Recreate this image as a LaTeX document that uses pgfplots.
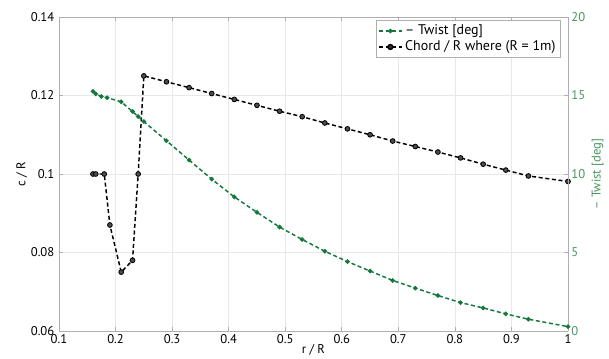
\documentclass[border=0pt]{standalone}
\usepackage{pgfplots}
\pgfplotsset{compat=1.18}
\usepackage{fontspec}
\setmainfont{PT Sans}
\definecolor{twistg}{RGB}{20,120,60}
\definecolor{twistl}{RGB}{70,150,95}
\definecolor{gridc}{RGB}{232,232,232}
\definecolor{framec}{RGB}{175,175,175}
\pgfplotstableread{
x y
0.16 0.100
0.165 0.100
0.18 0.100
0.19 0.087
0.21 0.075
0.23 0.078
0.24 0.100
0.25 0.125
0.29 0.1235
0.33 0.122
0.37 0.1205
0.41 0.119
0.45 0.1175
0.49 0.116
0.53 0.1146
0.57 0.113
0.61 0.1115
0.65 0.110
0.69 0.1084
0.73 0.107
0.77 0.1056
0.81 0.1041
0.85 0.1025
0.89 0.101
0.93 0.0995
1.00 0.0981
}\chord
\pgfplotstableread{
x y
0.16 15.26
0.165 15.10
0.175 14.94
0.185 14.86
0.21 14.60
0.23 13.98
0.24 13.66
0.25 13.34
0.29 12.12
0.33 10.89
0.37 9.67
0.41 8.54
0.45 7.56
0.49 6.62
0.53 5.83
0.57 5.08
0.61 4.42
0.65 3.82
0.69 3.22
0.73 2.73
0.77 2.26
0.81 1.81
0.85 1.47
0.89 1.09
0.93 0.75
1.00 0.28
}\twist
\begin{document}
\begin{tikzpicture}[x=1pt,y=1pt]
\pgfplotsset{
  common/.style={
    scale only axis, width=381.75pt, height=235.5pt,
    xmin=0.1, xmax=1,
    font=\fontsize{9.5}{10}\selectfont,
    /pgf/number format/assume math mode=true,
    tick align=inside,
    major tick length=3pt,
    tick style={framec, line width=0.5pt},
  }
}
\begin{axis}[common,
  ymin=0.06, ymax=0.14,
  axis line style={framec, line width=0.7pt},
  xtick={0.1,0.2,...,1.0},
  ytick={0.06,0.08,0.1,0.12,0.14},
  xticklabels={0.1,0.2,0.3,0.4,0.5,0.6,0.7,0.8,0.9,1},
  yticklabels={0.06,0.08,0.1,0.12,0.14},
  grid=major, grid style={gridc, line width=0.5pt},
  xlabel={r / R}, ylabel={c / R},
  xlabel style={yshift=6.5pt},
  ylabel style={yshift=-4pt},
  axis y line*=left,
  xticklabel style={yshift=1pt},
]
\addplot[black, line width=1.1pt, dash pattern=on 3pt off 2pt,
  mark=*, mark size=1.8pt, mark options={solid, fill=black!70, draw=black, line width=0.6pt}]
  table[x=x,y=y]{\chord};
\end{axis}
\begin{axis}[common,
  ymin=0, ymax=20,
  axis x line=none,
  axis y line*=right,
  axis line style={framec, line width=0.7pt},
  ytick={0,5,10,15,20},
  yticklabel style={twistl, xshift=-1pt},
  ylabel={\textendash{} Twist [deg]},
  ylabel style={twistl, yshift=2pt},
  legend style={at={(0.985,0.99)}, anchor=north east, draw=framec,
    font=\fontsize{10.5}{11}\selectfont, inner sep=1.5pt, row sep=-1pt,
    cells={anchor=west}},
  legend cell align=left,
]
\addplot[twistg, line width=1.1pt, dash pattern=on 3pt off 2pt,
  mark=*, mark size=1.1pt, mark options={solid, fill=twistg}]
  table[x=x,y=y]{\twist};
\addlegendentry{\textendash{} Twist [deg]}
\addlegendimage{black, line width=1.1pt, dash pattern=on 3pt off 2pt,
  mark=*, mark size=1.8pt, mark options={solid, fill=black!80, draw=black}}
\addlegendentry{Chord / R where (R = 1m)}
\end{axis}
\pgfresetboundingbox
\useasboundingbox (-44.25pt,-20.25pt) rectangle (412.5pt,248.25pt);
\end{tikzpicture}
\end{document}
